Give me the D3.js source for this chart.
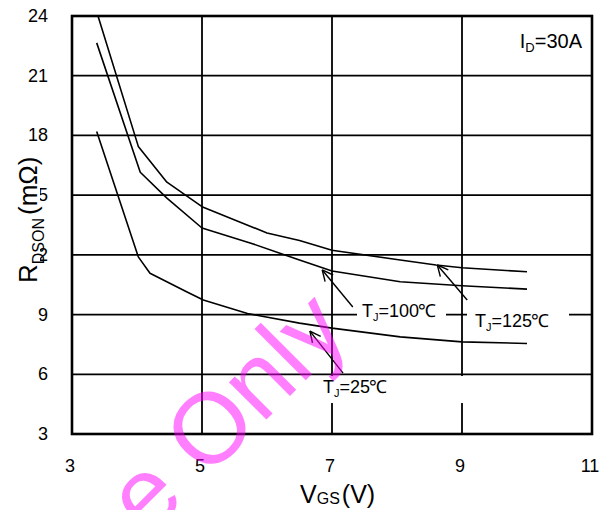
<!doctype html>
<html lang="en">
<head>
<meta charset="utf-8" />
<title>RDSON vs VGS</title>
<script src="https://d3js.org/d3.v7.min.js"></script>
<style>
  body { margin: 0; background: #fff; }
  text { font-family: "Liberation Sans", Arial, sans-serif; fill: #000; }
</style>
</head>
<body>
<div id="chart"></div>
<script>
// data: [VGS (V), RDSON (mOhm)]
const xTicks = [3, 5, 7, 9, 11];
const yTicks = [3, 6, 9, 12, 15, 18, 21, 24];

const tj125 = [[3.4, 24.0], [4.02, 17.45], [4.46, 15.65], [5, 14.42], [6, 13.1], [6.5, 12.72],
  [7, 12.23], [8.05, 11.74], [8.6, 11.49], [9, 11.35], [10, 11.15]];
const tj100 = [[3.38, 22.65], [4.05, 16.15], [4.46, 14.85], [5, 13.35], [5.74, 12.6], [6.5, 11.74],
  [7, 11.19], [8.05, 10.65], [9, 10.45], [10, 10.28]];
const tj25 = [[3.38, 18.2], [4.02, 11.9], [4.2, 11.08], [4.77, 10.13], [5.02, 9.73], [5.7, 9.05],
  [6.5, 8.57], [7, 8.32], [8.05, 7.88], [9, 7.63], [10, 7.55]];

// annotation arrows: tail -> head, label start, in data units
const arrows = [
  { text: "100", tail: [7.32, 9.38], head: [6.85, 11.24], label: [7.46, 8.88] },
  { text: "125", tail: [9.08, 9.73], head: [8.62, 11.49], label: [9.2, 8.37] },
  { text: "25", tail: [7.17, 6.06], head: [6.66, 8.17], label: [6.86, 5.06] }
];

const W = 609, H = 510;
const svg = d3.select("#chart").append("svg").attr("width", W).attr("height", H);

const x = d3.scaleLinear().domain([3, 11]).range([72, 592]);
const y = d3.scaleLinear().domain([3, 24]).range([434, 16]);

// grid
svg.append("g").selectAll("line").data(yTicks.slice(1, -1)).join("line")
  .attr("x1", x(3)).attr("x2", x(11)).attr("y1", d => y(d)).attr("y2", d => y(d))
  .attr("stroke", "#000").attr("stroke-width", 1.8);
svg.append("g").selectAll("line").data(xTicks.slice(1, -1)).join("line")
  .attr("y1", y(3)).attr("y2", y(24)).attr("x1", d => x(d)).attr("x2", d => x(d))
  .attr("stroke", "#000").attr("stroke-width", 1.8);

// white patches behind the labels (grid gaps)
svg.append("rect").attr("x", 357).attr("y", 302).attr("width", 89).attr("height", 20).attr("fill", "#fff");
svg.append("rect").attr("x", 467).attr("y", 309).attr("width", 102).attr("height", 24).attr("fill", "#fff");
svg.append("rect").attr("x", 320).attr("y", 376).attr("width", 150).attr("height", 27).attr("fill", "#fff");

// curves
const line = d3.line().x(d => x(d[0])).y(d => y(d[1]));
[tj125, tj100, tj25].forEach(s => {
  svg.append("path").attr("d", line(s)).attr("fill", "none")
    .attr("stroke", "#000").attr("stroke-width", 1.6).attr("stroke-linejoin", "round");
});

// arrows with open heads
arrows.forEach(a => {
  const x1 = x(a.tail[0]), y1 = y(a.tail[1]), x2 = x(a.head[0]), y2 = y(a.head[1]);
  const ang = Math.atan2(y1 - y2, x1 - x2);
  const g = svg.append("g").attr("stroke", "#000").attr("stroke-width", 1.4).attr("fill", "none");
  g.append("line").attr("x1", x1).attr("y1", y1).attr("x2", x2).attr("y2", y2);
  [-0.45, 0.45].forEach(da => {
    g.append("line").attr("x1", x2).attr("y1", y2)
      .attr("x2", x2 + 12 * Math.cos(ang + da)).attr("y2", y2 + 12 * Math.sin(ang + da));
  });
  const t = svg.append("text").attr("x", x(a.label[0])).attr("y", y(a.label[1])).attr("font-size", 18);
  t.append("tspan").text("T");
  t.append("tspan").attr("font-size", 11).attr("dy", 4).text("J");
  t.append("tspan").attr("dy", -4).text("=" + a.text);
  t.append("tspan").attr("dx", -1).text("℃");
});

// frame
svg.append("rect").attr("x", x(3)).attr("y", y(24)).attr("width", x(11) - x(3)).attr("height", y(3) - y(24))
  .attr("fill", "none").attr("stroke", "#000").attr("stroke-width", 2.6);

// tick labels
svg.append("g").selectAll("text").data(xTicks).join("text")
  .attr("x", d => x(d) - 2).attr("y", 472).attr("text-anchor", "middle").attr("font-size", 18)
  .text(d => d);
svg.append("g").selectAll("text").data(yTicks).join("text")
  .attr("x", 48).attr("y", d => y(d) + 6).attr("text-anchor", "end").attr("font-size", 18)
  .text(d => d);

// ID label
const id = svg.append("text").attr("x", 582).attr("y", 48).attr("text-anchor", "end").attr("font-size", 20);
id.append("tspan").text("I");
id.append("tspan").attr("font-size", 13).attr("dy", 4).text("D");
id.append("tspan").attr("dy", -4).text("=30A");

// x title
const xt = svg.append("text").attr("x", 300).attr("y", 503).attr("font-size", 25);
xt.append("tspan").text("V");
xt.append("tspan").attr("font-size", 16).attr("dy", 1).text("GS");
xt.append("tspan").attr("dy", -1).attr("dx", 2).text("(V)");

// y title (covers part of the tick labels like the original)
const yg = svg.append("g").attr("transform", "translate(37,283) rotate(-90)");
yg.append("rect").attr("x", 0).attr("y", -21).attr("width", 134).attr("height", 24).attr("fill", "#fff");
const yt = yg.append("text").attr("x", 0).attr("y", 0).attr("font-size", 26);
yt.append("tspan").text("R");
yt.append("tspan").attr("font-size", 16).attr("dy", 7).text("DSON");
yt.append("tspan").attr("dy", -7).attr("dx", 3).text("(mΩ)");

// watermark
svg.append("text").attr("transform", "translate(352,334) rotate(-45)")
  .attr("text-anchor", "end").attr("font-size", 100)
  .style("fill", "#ff00ff").style("fill-opacity", 0.5)
  .text("Reference Only");
</script>
</body>
</html>
